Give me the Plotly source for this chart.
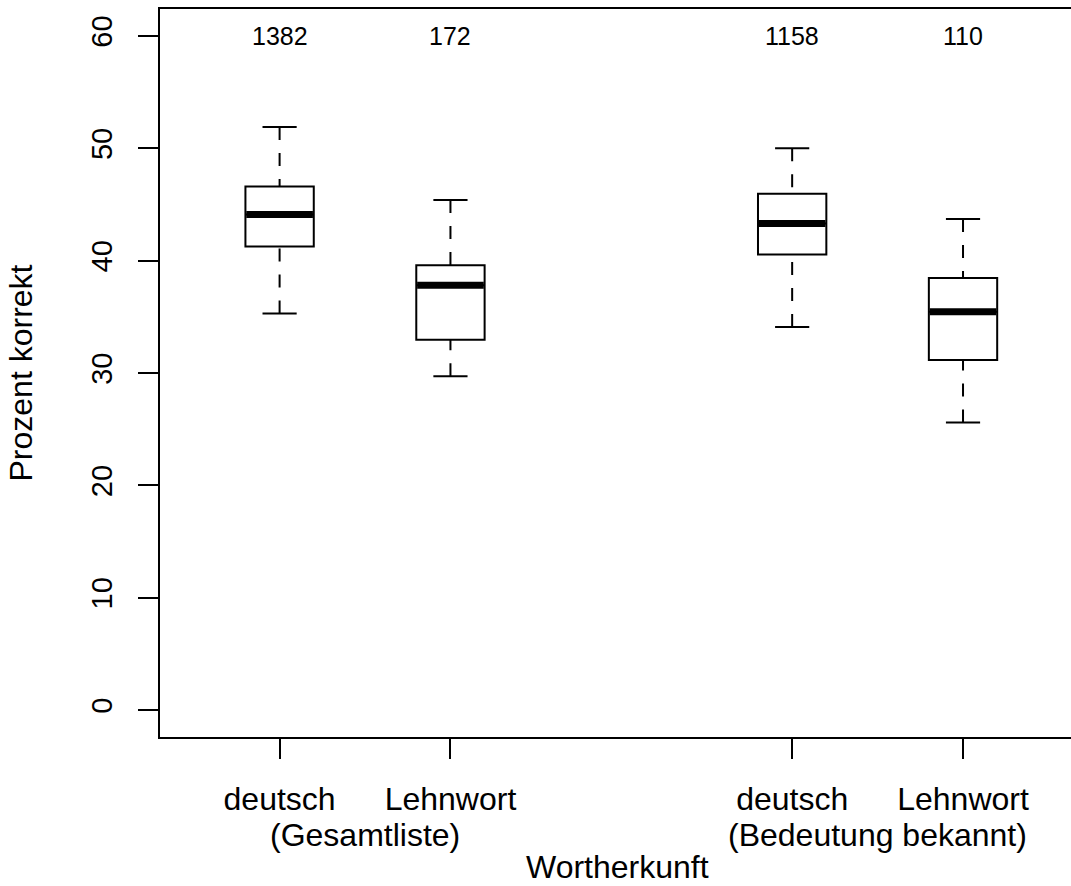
import plotly.graph_objects as go

# ---- data ----
positions = [1, 2, 4, 5]
tick_labels = ["deutsch", "Lehnwort", "deutsch", "Lehnwort"]
group_labels = ["(Gesamtliste)", "(Bedeutung bekannt)"]
group_centers = [1.5, 4.5]
counts = ["1382", "172", "1158", "110"]
lower_whisker = [35.3, 29.7, 34.1, 25.6]
q1 = [41.25, 32.95, 40.55, 31.15]
median = [44.1, 37.8, 43.3, 35.45]
q3 = [46.6, 39.6, 45.95, 38.45]
upper_whisker = [51.9, 45.4, 50.0, 43.7]
y_ticks = [0, 10, 20, 30, 40, 50, 60]
count_y = 60
x_title = "Wortherkunft"
y_title = "Prozent korrekt"

BOX_W = 0.4
CAP_W = 0.2
FONT = "Liberation Sans, Arial, Helvetica, sans-serif"

fig = go.Figure()

# boxes (no whiskers: fences equal to quartiles)
fig.add_trace(go.Box(
    x=positions, q1=q1, median=median, q3=q3,
    lowerfence=q1, upperfence=q3,
    width=BOX_W, whiskerwidth=0,
    fillcolor="white", line=dict(color="black", width=2),
    boxpoints=False, showlegend=False, hoverinfo="skip",
))

# dashed whiskers, caps, thick medians
for x, lo, a, m, b, hi in zip(positions, lower_whisker, q1, median, q3, upper_whisker):
    for ext, quart in ((lo, a), (hi, b)):
        fig.add_trace(go.Scatter(
            x=[x, x], y=[ext, quart], mode="lines",
            line=dict(color="black", width=2, dash="13px,13px"),
            showlegend=False, hoverinfo="skip"))
        fig.add_trace(go.Scatter(
            x=[x - CAP_W / 2, x + CAP_W / 2], y=[ext, ext], mode="lines",
            line=dict(color="black", width=2),
            showlegend=False, hoverinfo="skip"))
    fig.add_trace(go.Scatter(
        x=[x - BOX_W / 2 + 0.005, x + BOX_W / 2 - 0.005], y=[m, m], mode="lines",
        line=dict(color="black", width=7),
        showlegend=False, hoverinfo="skip"))

# counts above boxes
for x, c in zip(positions, counts):
    fig.add_annotation(x=x, y=count_y, xref="x", yref="y", text=c,
                       showarrow=False, font=dict(size=25, color="black", family=FONT),
                       xanchor="center", yanchor="middle")

# group labels under the tick labels
for xc, g in zip(group_centers, group_labels):
    fig.add_annotation(x=xc, y=-0.134, xref="x", yref="paper", text=g,
                       showarrow=False, font=dict(size=32, color="black", family=FONT),
                       xanchor="center", yanchor="middle")

# x axis title
fig.add_annotation(x=0.5 * (positions[0] + positions[-1]) - 0.025, y=-0.179,
                   xref="x", yref="paper", text=x_title, showarrow=False,
                   font=dict(size=32, color="black", family=FONT),
                   xanchor="center", yanchor="middle")

fig.update_layout(
    width=1071, height=886,
    margin=dict(l=160, r=0, t=9, b=149, autoexpand=False),
    paper_bgcolor="white", plot_bgcolor="white",
    font=dict(family=FONT, size=32, color="black"),
    xaxis=dict(
        range=[0.3, 5.632], tickmode="array", tickvals=positions, ticktext=tick_labels,
        ticks="outside", ticklen=20, tickwidth=2, tickcolor="black",
        showline=True, linewidth=2, linecolor="black", mirror=True,
        showgrid=False, zeroline=False, ticklabelstandoff=13, automargin=False,
        tickfont=dict(size=32),
    ),
    yaxis=dict(
        range=[-2.4, 62.4], tickmode="array", tickvals=y_ticks,
        ticks="outside", ticklen=20, tickwidth=2, tickcolor="black",
        showline=True, linewidth=2, linecolor="black", mirror=False,
        showgrid=False, zeroline=False, tickangle=-90, ticklabelstandoff=14,
        tickfont=dict(size=29), automargin=False,
        title=dict(text=y_title, font=dict(size=32), standoff=44),
    ),
)

fig.write_html("out.html")
